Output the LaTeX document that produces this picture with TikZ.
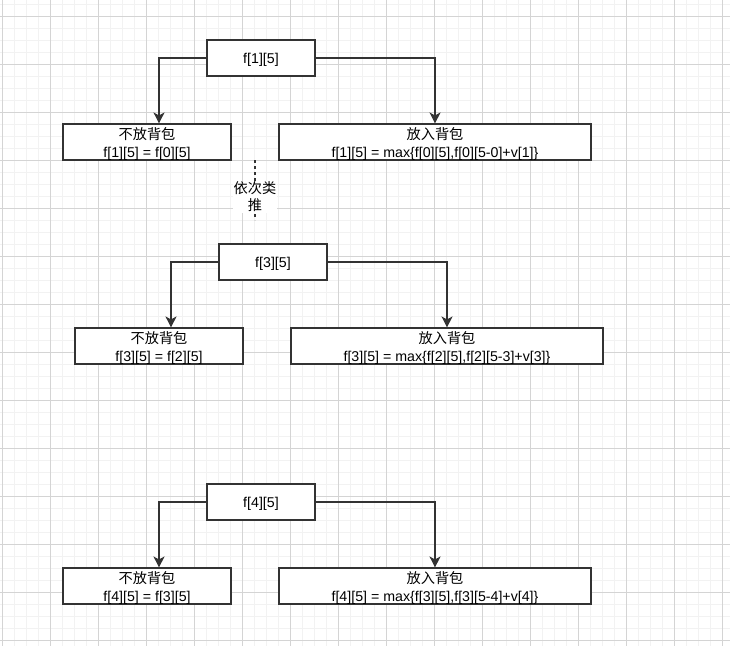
\documentclass[tikz,border=0pt]{standalone}
\usepackage{fontspec}
\setmainfont{Liberation Sans}
\newfontfamily\cjk{Noto Sans CJK SC}
\usetikzlibrary{arrows.meta}

\begin{document}
\begin{tikzpicture}[x=1pt,y=-1pt,
    box/.style={draw=black!80,line width=1.1pt,fill=white,minimum height=36pt,inner sep=0pt,
        text depth=0pt,align=center,font=\fontsize{14.2}{18}\selectfont},
    arr/.style={draw=black!80,line width=1.1pt,-{Stealth[length=11pt,width=11pt,inset=3pt]}},
    minorline/.style={draw=black!5,line width=0.8pt},
    majorline/.style={draw=black!17,line width=0.8pt}]
    \useasboundingbox[fill=white] (0,0) rectangle (730,646);
    \foreach \x in {2,14,...,730} \draw[minorline] (\x,0) -- (\x,646);
    \foreach \y in {4,16,...,646} \draw[minorline] (0,\y) -- (730,\y);
    \foreach \x in {2,50,...,730} \draw[majorline] (\x,0) -- (\x,646);
    \foreach \y in {16,64,...,646} \draw[majorline] (0,\y) -- (730,\y);

    \node[box,minimum width=108pt] (f15) at (261,58) {f[1][5]};
    \node[box,minimum width=168pt] (no1) at (147,142) {{\cjk 不放背包}\\f[1][5] = f[0][5]};
    \node[box,minimum width=312pt] (in1) at (435,142) {{\cjk 放入背包}\\f[1][5] = max\{f[0][5],f[0][5-0]+v[1]\}};
    \draw[arr] (f15.west) -| ([xshift=12pt]no1.north);
    \draw[arr] (f15.east) -| (in1.north);

    \coordinate (dtop) at (255,160);
    \coordinate (dbot) at (255,220);
    \draw[draw=black!80,line width=1.1pt,dash pattern=on 3pt off 3pt] (dtop) -- (dbot);
    \node[fill=white,inner sep=0.5pt,align=center,font=\cjk\fontsize{14.2}{17}\selectfont] (etc) at (255,197) {依次类\\推};

    \node[box,minimum width=108pt] (f35) at (273,262) {f[3][5]};
    \node[box,minimum width=168pt] (no3) at (159,346) {{\cjk 不放背包}\\f[3][5] = f[2][5]};
    \node[box,minimum width=312pt] (in3) at (447,346) {{\cjk 放入背包}\\f[3][5] = max\{f[2][5],f[2][5-3]+v[3]\}};
    \draw[arr] (f35.west) -| ([xshift=12pt]no3.north);
    \draw[arr] (f35.east) -| (in3.north);

    \node[box,minimum width=108pt] (f45) at (261,502) {f[4][5]};
    \node[box,minimum width=168pt] (no4) at (147,586) {{\cjk 不放背包}\\f[4][5] = f[3][5]};
    \node[box,minimum width=312pt] (in4) at (435,586) {{\cjk 放入背包}\\f[4][5] = max\{f[3][5],f[3][5-4]+v[4]\}};
    \draw[arr] (f45.west) -| ([xshift=12pt]no4.north);
    \draw[arr] (f45.east) -| (in4.north);
\end{tikzpicture}
\end{document}
